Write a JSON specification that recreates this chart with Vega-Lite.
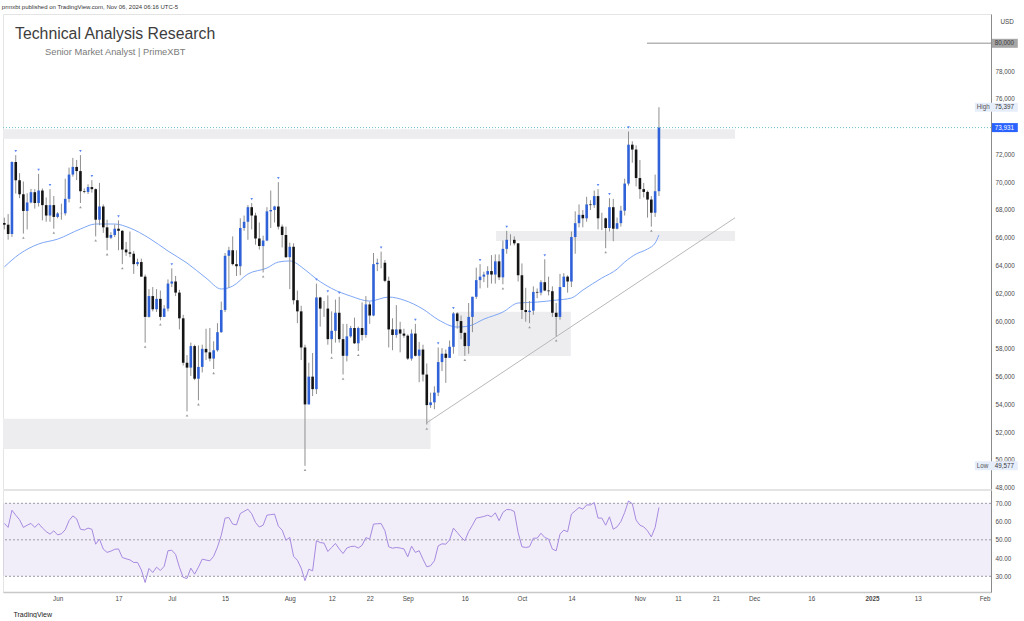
{
"$schema": "https://vega.github.io/schema/vega-lite/v6.json",
"background": "white",
"padding": {"left": 1, "top": 3, "right": 0, "bottom": 0},
"bounds": "flush",
"spacing": 1,
"title": {"text": "prmxbt published on TradingView.com, Nov 06, 2024 06:16 UTC-5", "anchor": "start", "fontSize": 6, "font": "Liberation Sans", "fontWeight": "normal", "color": "#333333", "offset": 4},
"config": {
  "view": {"stroke": "#e4e4e4"},
  "font": "Liberation Sans",
  "scale": {"continuousPadding": 0},
  "axis": {"labelFont": "Liberation Sans", "labelFontSize": 6.3, "labelColor": "#4a4a4a", "ticks": false, "grid": false, "domainColor": "#8a8a8a"}
},
"datasets": {
"candles": [
{"d":"2024-05-18","o":67060,"h":67450,"l":66600,"c":66940,"r":59.0,"p":""},
{"d":"2024-05-19","o":66940,"h":67700,"l":65860,"c":66270,"r":56.8,"p":""},
{"d":"2024-05-20","o":66270,"h":71500,"l":66060,"c":71450,"r":66.2,"p":""},
{"d":"2024-05-21","o":71450,"h":71950,"l":69180,"c":70140,"r":63.5,"p":"H"},
{"d":"2024-05-22","o":70140,"h":70650,"l":68850,"c":69130,"r":61.0,"p":""},
{"d":"2024-05-23","o":69130,"h":70050,"l":66300,"c":67930,"r":56.8,"p":"L"},
{"d":"2024-05-24","o":67930,"h":69200,"l":66600,"c":68540,"r":58.0,"p":""},
{"d":"2024-05-25","o":68540,"h":69520,"l":68480,"c":69280,"r":59.0,"p":""},
{"d":"2024-05-26","o":69280,"h":69500,"l":68100,"c":68500,"r":56.8,"p":""},
{"d":"2024-05-27","o":68500,"h":70600,"l":68250,"c":69400,"r":58.9,"p":"H"},
{"d":"2024-05-28","o":69400,"h":69550,"l":67250,"c":68350,"r":56.5,"p":""},
{"d":"2024-05-29","o":68350,"h":68900,"l":67150,"c":67600,"r":54.5,"p":""},
{"d":"2024-05-30","o":67600,"h":69500,"l":67150,"c":68350,"r":53.1,"p":"H"},
{"d":"2024-05-31","o":68350,"h":69000,"l":66650,"c":67500,"r":54.9,"p":"L"},
{"d":"2024-06-01","o":67500,"h":67850,"l":67400,"c":67750,"r":52.7,"p":""},
{"d":"2024-06-02","o":67750,"h":68450,"l":67300,"c":67760,"r":53.3,"p":""},
{"d":"2024-06-03","o":67760,"h":70250,"l":67600,"c":68800,"r":55.5,"p":""},
{"d":"2024-06-04","o":68800,"h":71050,"l":68550,"c":70550,"r":60.5,"p":""},
{"d":"2024-06-05","o":70550,"h":71750,"l":70400,"c":71100,"r":63.1,"p":""},
{"d":"2024-06-06","o":71100,"h":71600,"l":70150,"c":70800,"r":61.5,"p":""},
{"d":"2024-06-07","o":70800,"h":71950,"l":68500,"c":69350,"r":55.8,"p":"HL"},
{"d":"2024-06-08","o":69350,"h":69550,"l":69200,"c":69300,"r":55.4,"p":""},
{"d":"2024-06-09","o":69300,"h":69850,"l":69150,"c":69650,"r":56.4,"p":""},
{"d":"2024-06-10","o":69650,"h":70150,"l":69250,"c":69500,"r":55.8,"p":"H"},
{"d":"2024-06-11","o":69500,"h":69550,"l":66100,"c":67300,"r":47.6,"p":"L"},
{"d":"2024-06-12","o":67300,"h":69950,"l":66900,"c":68250,"r":50.4,"p":""},
{"d":"2024-06-13","o":68250,"h":68400,"l":66350,"c":66750,"r":44.9,"p":""},
{"d":"2024-06-14","o":66750,"h":67300,"l":65100,"c":66000,"r":43.1,"p":"L"},
{"d":"2024-06-15","o":66000,"h":66400,"l":65900,"c":66200,"r":43.8,"p":""},
{"d":"2024-06-16","o":66200,"h":66950,"l":66050,"c":66650,"r":44.8,"p":""},
{"d":"2024-06-17","o":66650,"h":67250,"l":65100,"c":66500,"r":45.0,"p":"H"},
{"d":"2024-06-18","o":66500,"h":66550,"l":64100,"c":65150,"r":40.3,"p":"L"},
{"d":"2024-06-19","o":65150,"h":65700,"l":64700,"c":64950,"r":39.6,"p":""},
{"d":"2024-06-20","o":64950,"h":66450,"l":64600,"c":64850,"r":39.0,"p":""},
{"d":"2024-06-21","o":64850,"h":65050,"l":63400,"c":64100,"r":37.6,"p":""},
{"d":"2024-06-22","o":64100,"h":64500,"l":63950,"c":64250,"r":37.6,"p":""},
{"d":"2024-06-23","o":64250,"h":64500,"l":63200,"c":63200,"r":33.5,"p":""},
{"d":"2024-06-24","o":63200,"h":63350,"l":58450,"c":60300,"r":26.6,"p":"L"},
{"d":"2024-06-25","o":60300,"h":62300,"l":60250,"c":61800,"r":34.3,"p":""},
{"d":"2024-06-26","o":61800,"h":62450,"l":60700,"c":60850,"r":32.1,"p":""},
{"d":"2024-06-27","o":60850,"h":62300,"l":60650,"c":61600,"r":35.0,"p":""},
{"d":"2024-06-28","o":61600,"h":62200,"l":60050,"c":60300,"r":33.2,"p":"L"},
{"d":"2024-06-29","o":60300,"h":61150,"l":60300,"c":60900,"r":35.5,"p":""},
{"d":"2024-06-30","o":60900,"h":63000,"l":60700,"c":62700,"r":44.0,"p":""},
{"d":"2024-07-01","o":62700,"h":63800,"l":62450,"c":62850,"r":44.3,"p":"H"},
{"d":"2024-07-02","o":62850,"h":63250,"l":61800,"c":62050,"r":42.0,"p":""},
{"d":"2024-07-03","o":62050,"h":62250,"l":59400,"c":60200,"r":35.0,"p":""},
{"d":"2024-07-04","o":60200,"h":60450,"l":56800,"c":57000,"r":29.4,"p":""},
{"d":"2024-07-05","o":57000,"h":57550,"l":53500,"c":56650,"r":28.8,"p":"L"},
{"d":"2024-07-06","o":56650,"h":58450,"l":56050,"c":58200,"r":34.5,"p":""},
{"d":"2024-07-07","o":58200,"h":58300,"l":55750,"c":55850,"r":31.2,"p":""},
{"d":"2024-07-08","o":55850,"h":58250,"l":54300,"c":56700,"r":35.0,"p":"L"},
{"d":"2024-07-09","o":56700,"h":58300,"l":56300,"c":58000,"r":39.4,"p":""},
{"d":"2024-07-10","o":58000,"h":59450,"l":57200,"c":57750,"r":38.9,"p":""},
{"d":"2024-07-11","o":57750,"h":59500,"l":57100,"c":57300,"r":38.5,"p":""},
{"d":"2024-07-12","o":57300,"h":58550,"l":56550,"c":57900,"r":41.0,"p":"L"},
{"d":"2024-07-13","o":57900,"h":59850,"l":57800,"c":59200,"r":46.0,"p":""},
{"d":"2024-07-14","o":59200,"h":61400,"l":59150,"c":60800,"r":52.5,"p":""},
{"d":"2024-07-15","o":60800,"h":64900,"l":60650,"c":64700,"r":61.9,"p":""},
{"d":"2024-07-16","o":64700,"h":65350,"l":62400,"c":65100,"r":62.2,"p":""},
{"d":"2024-07-17","o":65100,"h":66100,"l":64000,"c":64100,"r":58.6,"p":""},
{"d":"2024-07-18","o":64100,"h":65100,"l":63250,"c":63950,"r":58.2,"p":""},
{"d":"2024-07-19","o":63950,"h":67400,"l":63300,"c":66700,"r":64.4,"p":""},
{"d":"2024-07-20","o":66700,"h":67600,"l":66500,"c":67150,"r":65.6,"p":""},
{"d":"2024-07-21","o":67150,"h":68350,"l":65850,"c":68200,"r":66.8,"p":""},
{"d":"2024-07-22","o":68200,"h":68500,"l":66600,"c":67600,"r":64.3,"p":"H"},
{"d":"2024-07-23","o":67600,"h":67800,"l":65500,"c":65950,"r":59.5,"p":""},
{"d":"2024-07-24","o":65950,"h":67100,"l":65150,"c":65400,"r":57.0,"p":""},
{"d":"2024-07-25","o":65400,"h":66150,"l":63500,"c":65800,"r":58.0,"p":"L"},
{"d":"2024-07-26","o":65800,"h":68200,"l":65750,"c":67900,"r":63.5,"p":""},
{"d":"2024-07-27","o":67900,"h":69400,"l":66700,"c":68000,"r":63.8,"p":""},
{"d":"2024-07-28","o":68000,"h":68300,"l":67100,"c":68250,"r":64.1,"p":""},
{"d":"2024-07-29","o":68250,"h":70000,"l":66600,"c":66800,"r":57.5,"p":"H"},
{"d":"2024-07-30","o":66800,"h":66950,"l":65300,"c":66200,"r":55.3,"p":""},
{"d":"2024-07-31","o":66200,"h":66800,"l":64550,"c":64600,"r":49.8,"p":""},
{"d":"2024-08-01","o":64600,"h":65650,"l":62300,"c":65350,"r":51.3,"p":""},
{"d":"2024-08-02","o":65350,"h":65600,"l":61200,"c":61500,"r":41.0,"p":""},
{"d":"2024-08-03","o":61500,"h":62200,"l":59850,"c":60700,"r":38.8,"p":""},
{"d":"2024-08-04","o":60700,"h":61100,"l":57200,"c":58100,"r":34.5,"p":""},
{"d":"2024-08-05","o":58100,"h":58300,"l":49577,"c":54000,"r":27.6,"p":"L"},
{"d":"2024-08-06","o":54000,"h":57000,"l":54000,"c":56000,"r":33.9,"p":""},
{"d":"2024-08-07","o":56000,"h":57700,"l":54600,"c":55100,"r":33.0,"p":""},
{"d":"2024-08-08","o":55100,"h":62700,"l":54750,"c":61700,"r":49.5,"p":"H"},
{"d":"2024-08-09","o":61700,"h":61750,"l":59600,"c":60900,"r":48.5,"p":""},
{"d":"2024-08-10","o":60900,"h":61450,"l":60300,"c":60900,"r":48.2,"p":""},
{"d":"2024-08-11","o":60900,"h":61850,"l":58300,"c":58700,"r":43.6,"p":"H"},
{"d":"2024-08-12","o":58700,"h":60700,"l":57650,"c":59300,"r":45.8,"p":"L"},
{"d":"2024-08-13","o":59300,"h":61550,"l":58450,"c":60600,"r":48.0,"p":""},
{"d":"2024-08-14","o":60600,"h":61750,"l":58450,"c":58700,"r":45.0,"p":"H"},
{"d":"2024-08-15","o":58700,"h":59800,"l":56150,"c":57500,"r":42.5,"p":"L"},
{"d":"2024-08-16","o":57500,"h":59800,"l":57100,"c":58900,"r":45.5,"p":""},
{"d":"2024-08-17","o":58900,"h":59650,"l":58800,"c":59500,"r":46.3,"p":""},
{"d":"2024-08-18","o":59500,"h":60250,"l":58350,"c":58400,"r":46.5,"p":""},
{"d":"2024-08-19","o":58400,"h":59600,"l":57850,"c":59500,"r":45.5,"p":"L"},
{"d":"2024-08-20","o":59500,"h":61350,"l":58600,"c":59000,"r":47.0,"p":""},
{"d":"2024-08-21","o":59000,"h":61800,"l":58800,"c":61200,"r":51.2,"p":""},
{"d":"2024-08-22","o":61200,"h":61400,"l":59800,"c":60400,"r":50.4,"p":""},
{"d":"2024-08-23","o":60400,"h":64900,"l":60350,"c":64100,"r":58.6,"p":""},
{"d":"2024-08-24","o":64100,"h":64500,"l":63600,"c":64200,"r":58.8,"p":""},
{"d":"2024-08-25","o":64200,"h":65000,"l":63800,"c":64200,"r":58.9,"p":"H"},
{"d":"2024-08-26","o":64200,"h":64400,"l":62800,"c":62900,"r":55.0,"p":""},
{"d":"2024-08-27","o":62900,"h":63200,"l":58100,"c":59400,"r":46.2,"p":""},
{"d":"2024-08-28","o":59400,"h":60200,"l":57900,"c":59000,"r":45.4,"p":""},
{"d":"2024-08-29","o":59000,"h":61150,"l":58800,"c":59400,"r":45.8,"p":""},
{"d":"2024-08-30","o":59400,"h":59950,"l":57750,"c":59100,"r":45.5,"p":""},
{"d":"2024-08-31","o":59100,"h":59450,"l":58800,"c":58950,"r":45.0,"p":""},
{"d":"2024-09-01","o":58950,"h":59050,"l":57200,"c":57300,"r":40.7,"p":""},
{"d":"2024-09-02","o":57300,"h":59400,"l":57150,"c":59100,"r":46.5,"p":""},
{"d":"2024-09-03","o":59100,"h":59800,"l":57450,"c":57500,"r":43.1,"p":"H"},
{"d":"2024-09-04","o":57500,"h":58500,"l":55600,"c":57950,"r":44.0,"p":""},
{"d":"2024-09-05","o":57950,"h":58300,"l":55650,"c":56150,"r":39.4,"p":""},
{"d":"2024-09-06","o":56150,"h":56950,"l":52550,"c":53950,"r":35.2,"p":"L"},
{"d":"2024-09-07","o":53950,"h":54850,"l":53750,"c":54150,"r":35.8,"p":""},
{"d":"2024-09-08","o":54150,"h":55300,"l":53650,"c":54850,"r":38.5,"p":""},
{"d":"2024-09-09","o":54850,"h":58100,"l":54600,"c":57050,"r":46.7,"p":"H"},
{"d":"2024-09-10","o":57050,"h":58050,"l":56400,"c":57650,"r":47.8,"p":""},
{"d":"2024-09-11","o":57650,"h":57950,"l":55550,"c":57350,"r":47.6,"p":""},
{"d":"2024-09-12","o":57350,"h":58600,"l":57350,"c":58150,"r":50.0,"p":""},
{"d":"2024-09-13","o":58150,"h":60650,"l":57650,"c":60550,"r":56.4,"p":"H"},
{"d":"2024-09-14","o":60550,"h":60650,"l":59450,"c":60000,"r":54.0,"p":""},
{"d":"2024-09-15","o":60000,"h":60400,"l":58700,"c":59150,"r":51.5,"p":""},
{"d":"2024-09-16","o":59150,"h":59200,"l":57500,"c":58200,"r":49.5,"p":"L"},
{"d":"2024-09-17","o":58200,"h":61300,"l":57650,"c":60300,"r":54.5,"p":""},
{"d":"2024-09-18","o":60300,"h":61750,"l":59200,"c":61750,"r":58.0,"p":""},
{"d":"2024-09-19","o":61750,"h":63850,"l":61600,"c":62950,"r":61.9,"p":""},
{"d":"2024-09-20","o":62950,"h":64100,"l":62350,"c":63200,"r":62.3,"p":"H"},
{"d":"2024-09-21","o":63200,"h":63550,"l":62800,"c":63350,"r":62.8,"p":""},
{"d":"2024-09-22","o":63350,"h":63950,"l":62400,"c":63600,"r":63.5,"p":""},
{"d":"2024-09-23","o":63600,"h":64750,"l":62700,"c":63350,"r":62.6,"p":""},
{"d":"2024-09-24","o":63350,"h":64800,"l":62700,"c":64300,"r":64.8,"p":""},
{"d":"2024-09-25","o":64300,"h":64800,"l":62950,"c":63150,"r":60.5,"p":""},
{"d":"2024-09-26","o":63150,"h":65800,"l":62650,"c":65200,"r":65.0,"p":"L"},
{"d":"2024-09-27","o":65200,"h":66500,"l":64850,"c":65850,"r":66.6,"p":"H"},
{"d":"2024-09-28","o":65850,"h":66250,"l":65450,"c":65850,"r":66.5,"p":""},
{"d":"2024-09-29","o":65850,"h":66100,"l":65450,"c":65600,"r":65.5,"p":""},
{"d":"2024-09-30","o":65600,"h":65600,"l":62850,"c":63300,"r":54.0,"p":""},
{"d":"2024-10-01","o":63300,"h":64150,"l":60150,"c":60800,"r":46.2,"p":""},
{"d":"2024-10-02","o":60800,"h":62400,"l":59950,"c":60650,"r":45.8,"p":""},
{"d":"2024-10-03","o":60650,"h":61450,"l":59850,"c":60750,"r":46.2,"p":"L"},
{"d":"2024-10-04","o":60750,"h":62500,"l":60450,"c":62100,"r":50.9,"p":""},
{"d":"2024-10-05","o":62100,"h":62350,"l":61650,"c":62050,"r":50.9,"p":""},
{"d":"2024-10-06","o":62050,"h":62950,"l":61850,"c":62800,"r":53.6,"p":""},
{"d":"2024-10-07","o":62800,"h":64450,"l":62150,"c":62200,"r":51.3,"p":"H"},
{"d":"2024-10-08","o":62200,"h":63200,"l":61850,"c":62150,"r":50.4,"p":""},
{"d":"2024-10-09","o":62150,"h":62500,"l":60300,"c":60600,"r":44.9,"p":""},
{"d":"2024-10-10","o":60600,"h":61300,"l":58900,"c":60300,"r":44.0,"p":"L"},
{"d":"2024-10-11","o":60300,"h":63400,"l":60100,"c":62450,"r":53.1,"p":""},
{"d":"2024-10-12","o":62450,"h":63450,"l":62450,"c":63200,"r":55.3,"p":""},
{"d":"2024-10-13","o":63200,"h":63300,"l":62050,"c":62850,"r":54.4,"p":""},
{"d":"2024-10-14","o":62850,"h":66450,"l":62450,"c":66050,"r":64.1,"p":""},
{"d":"2024-10-15","o":66050,"h":67900,"l":64850,"c":67050,"r":65.9,"p":""},
{"d":"2024-10-16","o":67050,"h":68400,"l":66750,"c":67650,"r":67.7,"p":""},
{"d":"2024-10-17","o":67650,"h":68000,"l":66750,"c":67400,"r":66.8,"p":""},
{"d":"2024-10-18","o":67400,"h":68950,"l":67150,"c":68400,"r":69.1,"p":""},
{"d":"2024-10-19","o":68400,"h":68700,"l":68000,"c":68350,"r":69.1,"p":""},
{"d":"2024-10-20","o":68350,"h":69400,"l":68150,"c":69000,"r":70.4,"p":""},
{"d":"2024-10-21","o":69000,"h":69500,"l":66600,"c":67400,"r":61.9,"p":"H"},
{"d":"2024-10-22","o":67400,"h":67800,"l":66550,"c":67400,"r":61.9,"p":""},
{"d":"2024-10-23","o":67400,"h":67450,"l":65250,"c":66700,"r":58.0,"p":"L"},
{"d":"2024-10-24","o":66700,"h":68850,"l":66450,"c":68200,"r":62.6,"p":"H"},
{"d":"2024-10-25","o":68200,"h":68800,"l":65750,"c":66650,"r":55.8,"p":""},
{"d":"2024-10-26","o":66650,"h":67450,"l":66600,"c":67050,"r":57.1,"p":""},
{"d":"2024-10-27","o":67050,"h":68300,"l":66800,"c":67950,"r":60.0,"p":""},
{"d":"2024-10-28","o":67950,"h":70250,"l":67600,"c":69900,"r":65.0,"p":""},
{"d":"2024-10-29","o":69900,"h":73650,"l":69750,"c":72700,"r":71.3,"p":"H"},
{"d":"2024-10-30","o":72700,"h":72950,"l":71400,"c":72350,"r":69.8,"p":""},
{"d":"2024-10-31","o":72350,"h":72650,"l":69700,"c":70300,"r":60.8,"p":""},
{"d":"2024-11-01","o":70300,"h":71600,"l":68800,"c":69500,"r":58.0,"p":""},
{"d":"2024-11-02","o":69500,"h":69950,"l":68900,"c":69300,"r":57.1,"p":""},
{"d":"2024-11-03","o":69300,"h":69400,"l":67450,"c":68750,"r":54.9,"p":""},
{"d":"2024-11-04","o":68750,"h":69000,"l":66800,"c":67800,"r":51.6,"p":"L"},
{"d":"2024-11-05","o":67800,"h":70550,"l":67500,"c":69350,"r":56.8,"p":""},
{"d":"2024-11-06","o":69350,"h":75397,"l":69000,"c":73931,"r":67.7,"p":""}
],
"ma": [
{"d":"2024-05-18","v":63900},{"d":"2024-05-22","v":64830},{"d":"2024-05-27","v":65550},{"d":"2024-06-01","v":65900},
{"d":"2024-06-07","v":66630},{"d":"2024-06-11","v":66990},{"d":"2024-06-16","v":66990},{"d":"2024-06-20","v":66700},
{"d":"2024-06-25","v":65980},{"d":"2024-06-30","v":65045},{"d":"2024-07-05","v":64180},{"d":"2024-07-10","v":63100},
{"d":"2024-07-14","v":62310},{"d":"2024-07-17","v":62520},{"d":"2024-07-21","v":63390},{"d":"2024-07-26","v":63820},
{"d":"2024-07-29","v":64250},{"d":"2024-08-01","v":64330},{"d":"2024-08-05","v":63700},{"d":"2024-08-08","v":63030},
{"d":"2024-08-12","v":62350},{"d":"2024-08-17","v":61800},{"d":"2024-08-22","v":61440},{"d":"2024-08-27","v":61730},
{"d":"2024-08-31","v":61510},{"d":"2024-09-05","v":60860},{"d":"2024-09-09","v":60100},{"d":"2024-09-14","v":59570},
{"d":"2024-09-17","v":59640},{"d":"2024-09-21","v":60140},{"d":"2024-09-26","v":60650},{"d":"2024-09-30","v":61300},
{"d":"2024-10-05","v":61370},{"d":"2024-10-10","v":61510},{"d":"2024-10-14","v":61660},{"d":"2024-10-17","v":62230},
{"d":"2024-10-22","v":63100},{"d":"2024-10-26","v":63740},{"d":"2024-10-28","v":64250},{"d":"2024-10-31","v":64830},
{"d":"2024-11-03","v":65190},{"d":"2024-11-05","v":65620},{"d":"2024-11-06","v":66200}
],
"zones": [
{"x1":"2024-05-17T15:36:00Z","x2":"2024-11-26T00:00:00Z","p1":73820,"p2":73130},
{"x1":"2024-09-24T05:00:00Z","x2":"2024-11-26T00:00:00Z","p1":66485,"p2":65765},
{"x1":"2024-09-14T05:00:00Z","x2":"2024-10-13T20:00:00Z","p1":60675,"p2":57490},
{"x1":"2024-05-17T15:36:00Z","x2":"2024-09-07T00:00:00Z","p1":52970,"p2":50790}
],
"badges": [
{"lab":"80,000","tag":"","v":80000,"k":"line"},
{"lab":"73,931","tag":"","v":73931,"k":"last"},
{"lab":"75,397","tag":"High","v":75397,"k":"hl"},
{"lab":"49,577","tag":"Low","v":49577,"k":"hl"}
]
},
"vconcat": [
{
"width": 988,
"height": 475,
"layer": [
{"data": {"name": "zones"}, "mark": {"type": "rect", "color": "#ededf0"},
 "encoding": {
  "x": {"field": "x1", "type": "temporal", "scale": {"type": "utc", "padding": 0, "domain": [{"year":2024,"month":5,"date":17,"hours":15,"minutes":36,"utc":true},{"year":2025,"month":2,"date":1,"hours":6,"utc":true}]}, "axis": null},
  "x2": {"field": "x2"},
  "y": {"field": "p1", "type": "quantitative", "scale": {"domain": [47910, 82110]},
        "axis": {"orient": "right", "values": [48000,50000,52000,54000,56000,58000,60000,62000,64000,66000,68000,70000,72000,76000,78000], "format": ",.0f", "labelPadding": 4, "labelAlign": "left", "title": "USD", "titleAngle": 0, "titleFontSize": 6.3, "titleFontWeight": "normal", "titleColor": "#444444", "titleX": 9, "titleY": 7, "titleAlign": "left", "titleBaseline": "middle", "labelOverlap": false}},
  "y2": {"field": "p2"}
 }},
{"data": {"values": [{"x1":"2024-09-06T00:00:00Z","p1":52680,"x2":"2024-11-26T00:00:00Z","p2":67440}]}, "mark": {"type": "rule", "color": "#b8b8b8", "strokeWidth": 1},
 "encoding": {
  "x": {"field": "x1", "type": "temporal", "scale": {"type": "utc", "padding": 0, "domain": [{"year":2024,"month":5,"date":17,"hours":15,"minutes":36,"utc":true},{"year":2025,"month":2,"date":1,"hours":6,"utc":true}]}, "axis": null},
  "x2": {"field": "x2"},
  "y": {"field": "p1", "type": "quantitative", "scale": {"domain": [47910, 82110]},
        "axis": {"orient": "right", "values": [48000,50000,52000,54000,56000,58000,60000,62000,64000,66000,68000,70000,72000,76000,78000], "format": ",.0f", "labelPadding": 4, "labelAlign": "left", "title": "USD", "titleAngle": 0, "titleFontSize": 6.3, "titleFontWeight": "normal", "titleColor": "#444444", "titleX": 9, "titleY": 7, "titleAlign": "left", "titleBaseline": "middle", "labelOverlap": false}},
  "y2": {"field": "p2"}
 }},
{"data": {"values": [{"x1":"2024-11-02T21:00:00Z","x2":"2025-02-01T06:00:00Z","p":80000}]}, "mark": {"type": "rule", "color": "#b5b5b5", "strokeWidth": 1.5},
 "encoding": {
  "x": {"field": "x1", "type": "temporal", "scale": {"type": "utc", "padding": 0, "domain": [{"year":2024,"month":5,"date":17,"hours":15,"minutes":36,"utc":true},{"year":2025,"month":2,"date":1,"hours":6,"utc":true}]}, "axis": null},
  "x2": {"field": "x2"},
  "y": {"field": "p", "type": "quantitative", "scale": {"domain": [47910, 82110]},
        "axis": {"orient": "right", "values": [48000,50000,52000,54000,56000,58000,60000,62000,64000,66000,68000,70000,72000,76000,78000], "format": ",.0f", "labelPadding": 4, "labelAlign": "left", "title": "USD", "titleAngle": 0, "titleFontSize": 6.3, "titleFontWeight": "normal", "titleColor": "#444444", "titleX": 9, "titleY": 7, "titleAlign": "left", "titleBaseline": "middle", "labelOverlap": false}}
 }},
{"data": {"values": [{"p": 73931}]}, "mark": {"type": "rule", "color": "#6cc3cc", "strokeWidth": 1, "strokeDash": [1, 2]},
 "encoding": {
  "y": {"field": "p", "type": "quantitative", "scale": {"domain": [47910, 82110]},
        "axis": {"orient": "right", "values": [48000,50000,52000,54000,56000,58000,60000,62000,64000,66000,68000,70000,72000,76000,78000], "format": ",.0f", "labelPadding": 4, "labelAlign": "left", "title": "USD", "titleAngle": 0, "titleFontSize": 6.3, "titleFontWeight": "normal", "titleColor": "#444444", "titleX": 9, "titleY": 7, "titleAlign": "left", "titleBaseline": "middle", "labelOverlap": false}}
 }},
{"data": {"name": "ma"}, "mark": {"type": "line", "color": "#7ea6f6", "strokeWidth": 1, "interpolate": "monotone"},
 "encoding": {
  "x": {"field": "d", "type": "temporal", "scale": {"type": "utc", "padding": 0, "domain": [{"year":2024,"month":5,"date":17,"hours":15,"minutes":36,"utc":true},{"year":2025,"month":2,"date":1,"hours":6,"utc":true}]}, "axis": null},
  "y": {"field": "v", "type": "quantitative", "scale": {"domain": [47910, 82110]},
        "axis": {"orient": "right", "values": [48000,50000,52000,54000,56000,58000,60000,62000,64000,66000,68000,70000,72000,76000,78000], "format": ",.0f", "labelPadding": 4, "labelAlign": "left", "title": "USD", "titleAngle": 0, "titleFontSize": 6.3, "titleFontWeight": "normal", "titleColor": "#444444", "titleX": 9, "titleY": 7, "titleAlign": "left", "titleBaseline": "middle", "labelOverlap": false}}
 }},
{"data": {"name": "candles"}, "mark": {"type": "rule", "color": "#8f8f8f", "strokeWidth": 1},
 "encoding": {
  "x": {"field": "d", "type": "temporal", "scale": {"type": "utc", "padding": 0, "domain": [{"year":2024,"month":5,"date":17,"hours":15,"minutes":36,"utc":true},{"year":2025,"month":2,"date":1,"hours":6,"utc":true}]}, "axis": null},
  "y": {"field": "l", "type": "quantitative", "scale": {"domain": [47910, 82110]},
        "axis": {"orient": "right", "values": [48000,50000,52000,54000,56000,58000,60000,62000,64000,66000,68000,70000,72000,76000,78000], "format": ",.0f", "labelPadding": 4, "labelAlign": "left", "title": "USD", "titleAngle": 0, "titleFontSize": 6.3, "titleFontWeight": "normal", "titleColor": "#444444", "titleX": 9, "titleY": 7, "titleAlign": "left", "titleBaseline": "middle", "labelOverlap": false}},
  "y2": {"field": "h"}
 }},
{"data": {"name": "candles"}, "mark": {"type": "bar", "width": 2.6},
 "encoding": {
  "x": {"field": "d", "type": "temporal", "scale": {"type": "utc", "padding": 0, "domain": [{"year":2024,"month":5,"date":17,"hours":15,"minutes":36,"utc":true},{"year":2025,"month":2,"date":1,"hours":6,"utc":true}]}, "axis": null},
  "y": {"field": "o", "type": "quantitative", "scale": {"domain": [47910, 82110]},
        "axis": {"orient": "right", "values": [48000,50000,52000,54000,56000,58000,60000,62000,64000,66000,68000,70000,72000,76000,78000], "format": ",.0f", "labelPadding": 4, "labelAlign": "left", "title": "USD", "titleAngle": 0, "titleFontSize": 6.3, "titleFontWeight": "normal", "titleColor": "#444444", "titleX": 9, "titleY": 7, "titleAlign": "left", "titleBaseline": "middle", "labelOverlap": false}},
  "y2": {"field": "c"},
  "color": {"condition": {"test": "datum.c >= datum.o", "value": "#2f62d8"}, "value": "#141414"}
 }},
{"data": {"name": "candles"}, "transform": [{"filter": "indexof(datum.p, 'H') >= 0"}], "mark": {"type": "point", "shape": "triangle-down", "filled": true, "size": 7, "yOffset": -4, "color": "#5a86f0", "opacity": 1},
 "encoding": {
  "x": {"field": "d", "type": "temporal", "scale": {"type": "utc", "padding": 0, "domain": [{"year":2024,"month":5,"date":17,"hours":15,"minutes":36,"utc":true},{"year":2025,"month":2,"date":1,"hours":6,"utc":true}]}, "axis": null},
  "y": {"field": "h", "type": "quantitative", "scale": {"domain": [47910, 82110]},
        "axis": {"orient": "right", "values": [48000,50000,52000,54000,56000,58000,60000,62000,64000,66000,68000,70000,72000,76000,78000], "format": ",.0f", "labelPadding": 4, "labelAlign": "left", "title": "USD", "titleAngle": 0, "titleFontSize": 6.3, "titleFontWeight": "normal", "titleColor": "#444444", "titleX": 9, "titleY": 7, "titleAlign": "left", "titleBaseline": "middle", "labelOverlap": false}}
 }},
{"data": {"name": "candles"}, "transform": [{"filter": "indexof(datum.p, 'L') >= 0"}], "mark": {"type": "point", "shape": "triangle-up", "filled": true, "size": 7, "yOffset": 4, "color": "#9a9a9a", "opacity": 1},
 "encoding": {
  "x": {"field": "d", "type": "temporal", "scale": {"type": "utc", "padding": 0, "domain": [{"year":2024,"month":5,"date":17,"hours":15,"minutes":36,"utc":true},{"year":2025,"month":2,"date":1,"hours":6,"utc":true}]}, "axis": null},
  "y": {"field": "l", "type": "quantitative", "scale": {"domain": [47910, 82110]},
        "axis": {"orient": "right", "values": [48000,50000,52000,54000,56000,58000,60000,62000,64000,66000,68000,70000,72000,76000,78000], "format": ",.0f", "labelPadding": 4, "labelAlign": "left", "title": "USD", "titleAngle": 0, "titleFontSize": 6.3, "titleFontWeight": "normal", "titleColor": "#444444", "titleX": 9, "titleY": 7, "titleAlign": "left", "titleBaseline": "middle", "labelOverlap": false}}
 }},
{"data": {"values": [{"t": "Technical Analysis Research"}]}, "mark": {"type": "text", "align": "left", "baseline": "alphabetic", "fontSize": 15.8, "color": "#3d3d3d", "font": "Liberation Sans"},
 "encoding": {
  "x": {"datum": {"year":2024,"month":5,"date":20,"hours":19,"minutes":30,"utc":true}, "type": "temporal", "scale": {"type": "utc", "padding": 0, "domain": [{"year":2024,"month":5,"date":17,"hours":15,"minutes":36,"utc":true},{"year":2025,"month":2,"date":1,"hours":6,"utc":true}]}, "axis": null},
  "y": {"datum": 80330, "type": "quantitative", "scale": {"domain": [47910, 82110]},
        "axis": {"orient": "right", "values": [48000,50000,52000,54000,56000,58000,60000,62000,64000,66000,68000,70000,72000,76000,78000], "format": ",.0f", "labelPadding": 4, "labelAlign": "left", "title": "USD", "titleAngle": 0, "titleFontSize": 6.3, "titleFontWeight": "normal", "titleColor": "#444444", "titleX": 9, "titleY": 7, "titleAlign": "left", "titleBaseline": "middle", "labelOverlap": false}},
  "text": {"field": "t"}
 }},
{"data": {"values": [{"t": "Senior Market Analyst | PrimeXBT"}]}, "mark": {"type": "text", "align": "left", "baseline": "alphabetic", "fontSize": 9.3, "color": "#7a7a7a", "font": "Liberation Sans"},
 "encoding": {
  "x": {"datum": {"year":2024,"month":5,"date":28,"hours":16,"minutes":30,"utc":true}, "type": "temporal", "scale": {"type": "utc", "padding": 0, "domain": [{"year":2024,"month":5,"date":17,"hours":15,"minutes":36,"utc":true},{"year":2025,"month":2,"date":1,"hours":6,"utc":true}]}, "axis": null},
  "y": {"datum": 79136, "type": "quantitative", "scale": {"domain": [47910, 82110]},
        "axis": {"orient": "right", "values": [48000,50000,52000,54000,56000,58000,60000,62000,64000,66000,68000,70000,72000,76000,78000], "format": ",.0f", "labelPadding": 4, "labelAlign": "left", "title": "USD", "titleAngle": 0, "titleFontSize": 6.3, "titleFontWeight": "normal", "titleColor": "#444444", "titleX": 9, "titleY": 7, "titleAlign": "left", "titleBaseline": "middle", "labelOverlap": false}},
  "text": {"field": "t"}
 }},
{"data": {"name": "badges"}, "transform": [{"filter": "datum.k == 'hl'"}], "mark": {"type": "rect", "height": 9, "color": "#e6edfb"},
 "encoding": {
  "x": {"datum": {"year":2025,"month":1,"date":28,"utc":true}, "type": "temporal", "scale": {"type": "utc", "padding": 0, "domain": [{"year":2024,"month":5,"date":17,"hours":15,"minutes":36,"utc":true},{"year":2025,"month":2,"date":1,"hours":6,"utc":true}]}, "axis": null},
  "x2": {"datum": {"year":2025,"month":2,"date":8,"hours":7,"utc":true}},
  "y": {"field": "v", "type": "quantitative", "scale": {"domain": [47910, 82110]},
        "axis": {"orient": "right", "values": [48000,50000,52000,54000,56000,58000,60000,62000,64000,66000,68000,70000,72000,76000,78000], "format": ",.0f", "labelPadding": 4, "labelAlign": "left", "title": "USD", "titleAngle": 0, "titleFontSize": 6.3, "titleFontWeight": "normal", "titleColor": "#444444", "titleX": 9, "titleY": 7, "titleAlign": "left", "titleBaseline": "middle", "labelOverlap": false}}
 }},
{"data": {"name": "badges"}, "transform": [{"filter": "datum.k != 'hl'"}], "mark": {"type": "rect", "height": 9},
 "encoding": {
  "x": {"datum": {"year":2025,"month":2,"date":1,"hours":12,"utc":true}, "type": "temporal", "scale": {"type": "utc", "padding": 0, "domain": [{"year":2024,"month":5,"date":17,"hours":15,"minutes":36,"utc":true},{"year":2025,"month":2,"date":1,"hours":6,"utc":true}]}, "axis": null},
  "x2": {"datum": {"year":2025,"month":2,"date":8,"hours":7,"utc":true}},
  "y": {"field": "v", "type": "quantitative", "scale": {"domain": [47910, 82110]},
        "axis": {"orient": "right", "values": [48000,50000,52000,54000,56000,58000,60000,62000,64000,66000,68000,70000,72000,76000,78000], "format": ",.0f", "labelPadding": 4, "labelAlign": "left", "title": "USD", "titleAngle": 0, "titleFontSize": 6.3, "titleFontWeight": "normal", "titleColor": "#444444", "titleX": 9, "titleY": 7, "titleAlign": "left", "titleBaseline": "middle", "labelOverlap": false}},
  "color": {"condition": {"test": "datum.k == 'last'", "value": "#2962ff"}, "value": "#a6a6a6"}
 }},
{"data": {"name": "badges"}, "mark": {"type": "text", "align": "left", "baseline": "middle", "fontSize": 6.3, "font": "Liberation Sans"},
 "encoding": {
  "x": {"datum": {"year":2025,"month":2,"date":2,"hours":6,"utc":true}, "type": "temporal", "scale": {"type": "utc", "padding": 0, "domain": [{"year":2024,"month":5,"date":17,"hours":15,"minutes":36,"utc":true},{"year":2025,"month":2,"date":1,"hours":6,"utc":true}]}, "axis": null},
  "y": {"field": "v", "type": "quantitative", "scale": {"domain": [47910, 82110]},
        "axis": {"orient": "right", "values": [48000,50000,52000,54000,56000,58000,60000,62000,64000,66000,68000,70000,72000,76000,78000], "format": ",.0f", "labelPadding": 4, "labelAlign": "left", "title": "USD", "titleAngle": 0, "titleFontSize": 6.3, "titleFontWeight": "normal", "titleColor": "#444444", "titleX": 9, "titleY": 7, "titleAlign": "left", "titleBaseline": "middle", "labelOverlap": false}},
  "text": {"field": "lab"},
  "color": {"condition": {"test": "datum.k == 'last'", "value": "#ffffff"}, "value": "#3a3a3a"}
 }},
{"data": {"name": "badges"}, "transform": [{"filter": "datum.k == 'hl'"}], "mark": {"type": "text", "align": "left", "baseline": "middle", "fontSize": 6.3, "font": "Liberation Sans", "color": "#555555"},
 "encoding": {
  "x": {"datum": {"year":2025,"month":1,"date":28,"hours":12,"utc":true}, "type": "temporal", "scale": {"type": "utc", "padding": 0, "domain": [{"year":2024,"month":5,"date":17,"hours":15,"minutes":36,"utc":true},{"year":2025,"month":2,"date":1,"hours":6,"utc":true}]}, "axis": null},
  "y": {"field": "v", "type": "quantitative", "scale": {"domain": [47910, 82110]},
        "axis": {"orient": "right", "values": [48000,50000,52000,54000,56000,58000,60000,62000,64000,66000,68000,70000,72000,76000,78000], "format": ",.0f", "labelPadding": 4, "labelAlign": "left", "title": "USD", "titleAngle": 0, "titleFontSize": 6.3, "titleFontWeight": "normal", "titleColor": "#444444", "titleX": 9, "titleY": 7, "titleAlign": "left", "titleBaseline": "middle", "labelOverlap": false}},
  "text": {"field": "tag"}
 }}
]
},
{
"width": 988,
"height": 102,
"layer": [
{"data": {"values": [{}]}, "mark": {"type": "rect", "color": "#7e57c2", "opacity": 0.1},
 "encoding": {
  "y": {"datum": 30, "type": "quantitative", "scale": {"domain": [21.4, 77.3]}, "axis": {"orient": "right", "values": [30, 40, 50, 60, 70], "format": ".2f", "labelPadding": 4, "labelAlign": "left", "title": null}},
  "y2": {"datum": 70}
 }},
{"data": {"values": [{"v": 70}, {"v": 50}, {"v": 30}]}, "mark": {"type": "rule", "color": "#9c9ca6", "strokeWidth": 1, "strokeDash": [2, 2]},
 "encoding": {
  "y": {"field": "v", "type": "quantitative", "scale": {"domain": [21.4, 77.3]}, "axis": {"orient": "right", "values": [30, 40, 50, 60, 70], "format": ".2f", "labelPadding": 4, "labelAlign": "left", "title": null}}
 }},
{"data": {"name": "candles"}, "mark": {"type": "line", "color": "#a68ae0", "strokeWidth": 1},
 "encoding": {
  "x": {"field": "d", "type": "temporal", "scale": {"type": "utc", "padding": 0, "domain": [{"year":2024,"month":5,"date":17,"hours":15,"minutes":36,"utc":true},{"year":2025,"month":2,"date":1,"hours":6,"utc":true}]},
        "axis": {"orient": "bottom", "values": [
          {"year":2024,"month":6,"date":1,"utc":true},{"year":2024,"month":6,"date":17,"utc":true},{"year":2024,"month":7,"date":1,"utc":true},{"year":2024,"month":7,"date":15,"utc":true},
          {"year":2024,"month":8,"date":1,"utc":true},{"year":2024,"month":8,"date":12,"utc":true},{"year":2024,"month":8,"date":22,"utc":true},{"year":2024,"month":9,"date":1,"utc":true},
          {"year":2024,"month":9,"date":16,"utc":true},{"year":2024,"month":10,"date":1,"utc":true},{"year":2024,"month":10,"date":14,"utc":true},{"year":2024,"month":11,"date":1,"utc":true},
          {"year":2024,"month":11,"date":11,"utc":true},{"year":2024,"month":11,"date":21,"utc":true},{"year":2024,"month":12,"date":1,"utc":true},{"year":2024,"month":12,"date":16,"utc":true},
          {"year":2025,"month":1,"date":1,"utc":true},{"year":2025,"month":1,"date":13,"utc":true},{"year":2025,"month":2,"date":1,"utc":true}],
          "labelExpr": "utcdate(datum.value) == 1 ? (utcmonth(datum.value) == 0 ? utcFormat(datum.value, '%Y') : utcFormat(datum.value, '%b')) : utcFormat(datum.value, '%-d')",
          "labelFontWeight": {"condition": {"test": "utcmonth(datum.value) == 0 && utcdate(datum.value) == 1", "value": "bold"}, "value": "normal"},
          "labelPadding": 3, "labelOverlap": false, "labelFlush": 5, "domainColor": "#c8c8c8", "domainWidth": 1.5,
          "title": "TradingView", "titleAnchor": "start", "titleAlign": "left", "titleBaseline": "middle", "titleFontSize": 7, "titleFontWeight": "normal", "titleColor": "#222222", "titleX": 10, "titleY": 22}},
  "y": {"field": "r", "type": "quantitative", "scale": {"domain": [21.4, 77.3]}, "axis": {"orient": "right", "values": [30, 40, 50, 60, 70], "format": ".2f", "labelPadding": 4, "labelAlign": "left", "title": null}}
 }}
]
}
]
}
